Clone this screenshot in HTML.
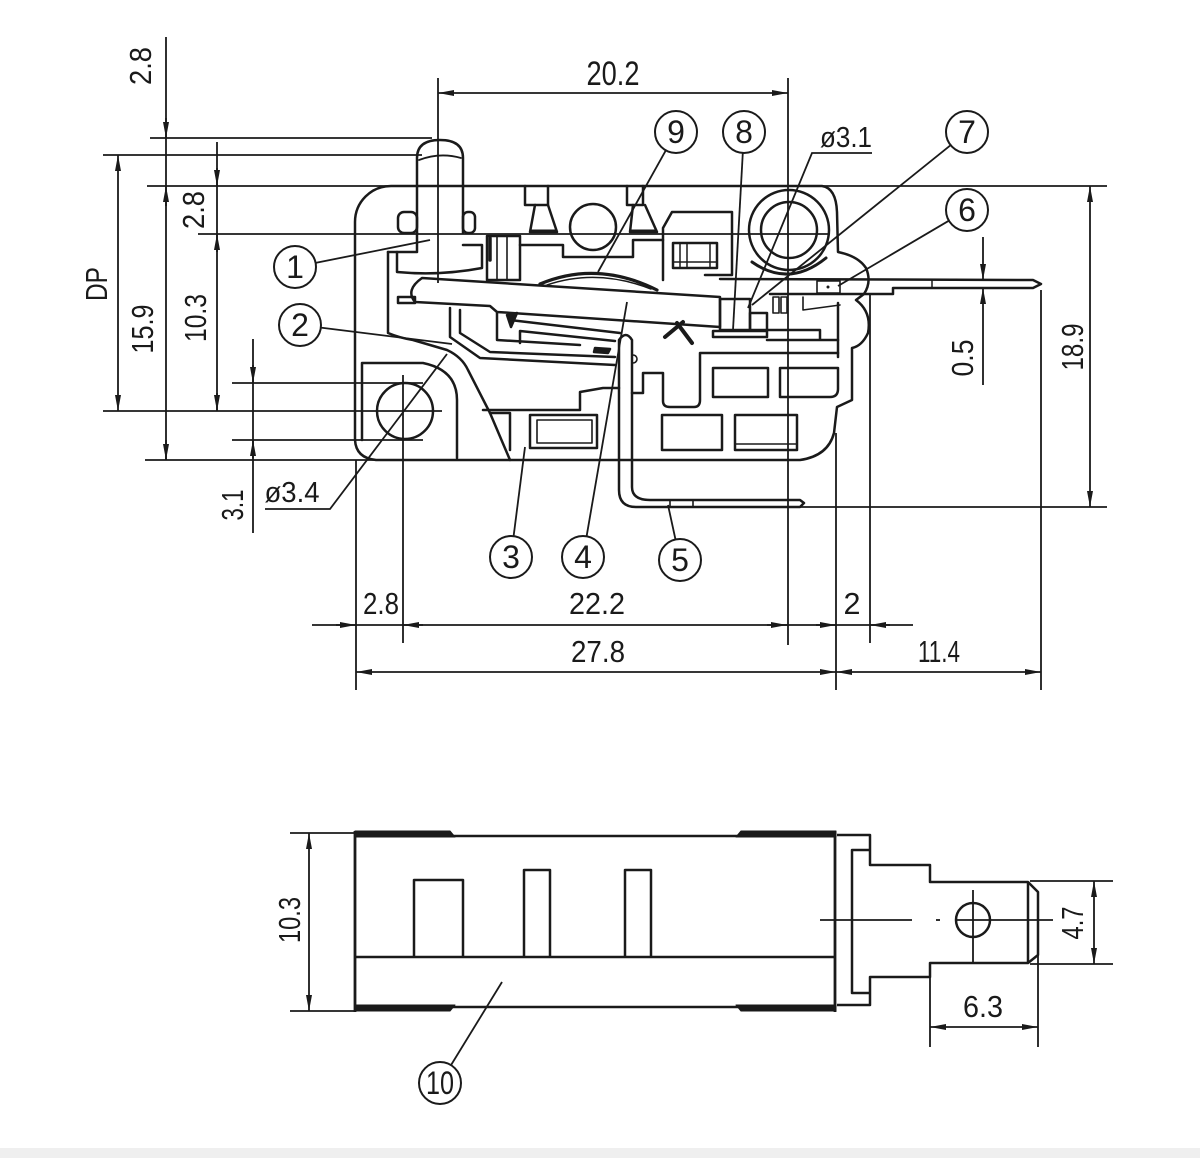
<!DOCTYPE html>
<html><head><meta charset="utf-8"><style>
html,body{margin:0;padding:0;background:#fff;}
svg{display:block}
text{font-family:"Liberation Sans",sans-serif;fill:#1a1a1a}
</style></head><body>
<svg width="1200" height="1158" viewBox="0 0 1200 1158" xmlns="http://www.w3.org/2000/svg">
<defs>
<marker id="a" viewBox="0 0 16 6" refX="16" refY="3" markerWidth="16" markerHeight="6" markerUnits="userSpaceOnUse" orient="auto-start-reverse"><path d="M0,0L16,3L0,6Z" fill="#1a1a1a"/></marker>
</defs>
<rect width="1200" height="1158" fill="#fff"/>
<rect y="1148" width="1200" height="10" fill="#efefef"/>

<!-- ========== DIMENSION / EXTENSION LINES ========== -->
<g fill="none" stroke="#1a1a1a" stroke-width="1.8">
  <!-- 20.2 -->
  <line x1="438" y1="78" x2="438" y2="283"/>
  <line x1="788" y1="78" x2="788" y2="645"/>
  <line x1="438" y1="93" x2="788" y2="93" marker-start="url(#a)" marker-end="url(#a)"/>

  <!-- left vertical 2.8 / height -->
  <line x1="166" y1="37" x2="166" y2="460"/>
  <line x1="166" y1="118" x2="166" y2="138" marker-end="url(#a)"/>
  <line x1="166" y1="206" x2="166" y2="186" marker-end="url(#a)"/>
  <line x1="166" y1="440" x2="166" y2="460" marker-end="url(#a)"/>

  <!-- horizontal extension lines -->
  <line x1="150" y1="138" x2="432" y2="138"/>
  <line x1="103" y1="155" x2="422" y2="155"/>
  <line x1="147" y1="186" x2="1107" y2="186"/>
  <line x1="198" y1="234" x2="828" y2="234"/>
  <line x1="103" y1="411" x2="442" y2="411"/>
  <line x1="145" y1="460" x2="380" y2="460"/>
  <line x1="232" y1="383" x2="423" y2="383"/>
  <line x1="232" y1="440" x2="423" y2="440"/>

  <!-- 15.9 -->
  <line x1="118" y1="155" x2="118" y2="411" marker-start="url(#a)" marker-end="url(#a)"/>
  <!-- 2.8 / 10.3 -->
  <line x1="217" y1="142" x2="217" y2="411"/>
  <line x1="217" y1="168" x2="217" y2="186" marker-end="url(#a)"/>
  <line x1="217" y1="252" x2="217" y2="234" marker-end="url(#a)"/>
  <line x1="217" y1="393" x2="217" y2="411" marker-end="url(#a)"/>
  <!-- 3.1 -->
  <line x1="253" y1="339" x2="253" y2="533"/>
  <line x1="253" y1="365" x2="253" y2="383" marker-end="url(#a)"/>
  <line x1="253" y1="458" x2="253" y2="440" marker-end="url(#a)"/>
  <!-- ø3.4 leader -->
  <polyline points="265,509 330,509 447,354"/>

  <!-- right side -->
  <line x1="1090" y1="186" x2="1090" y2="507" marker-start="url(#a)" marker-end="url(#a)"/>
  <line x1="800" y1="507" x2="1107" y2="507"/>
  <line x1="983" y1="237" x2="983" y2="280" marker-end="url(#a)"/>
  <line x1="983" y1="385" x2="983" y2="288" marker-end="url(#a)"/>
  <line x1="1041" y1="290" x2="1041" y2="690"/>
  <line x1="836" y1="433" x2="836" y2="690"/>
  <line x1="870" y1="295" x2="870" y2="643"/>
  <line x1="356" y1="460" x2="356" y2="690"/>
  <line x1="403" y1="375" x2="403" y2="643"/>

  <!-- bottom dims -->
  <line x1="312" y1="625" x2="913" y2="625"/>
  <line x1="336" y1="625" x2="356" y2="625" marker-end="url(#a)"/>
  <line x1="423" y1="625" x2="403" y2="625" marker-end="url(#a)"/>
  <line x1="767" y1="625" x2="787" y2="625" marker-end="url(#a)"/>
  <line x1="816" y1="625" x2="836" y2="625" marker-end="url(#a)"/>
  <line x1="890" y1="625" x2="870" y2="625" marker-end="url(#a)"/>
  <line x1="356" y1="672" x2="836" y2="672" marker-start="url(#a)" marker-end="url(#a)"/>
  <line x1="836" y1="672" x2="1041" y2="672" marker-start="url(#a)" marker-end="url(#a)"/>

  <!-- leaders top view -->
  <line x1="315.6" y1="262.9" x2="430" y2="240"/>
  <line x1="320.8" y1="327.6" x2="452" y2="344"/>
  <line x1="665.8" y1="150.4" x2="598" y2="272"/>
  <line x1="742.8" y1="153" x2="733" y2="330"/>
  <line x1="950.6" y1="145.2" x2="752" y2="305"/>
  <line x1="948.9" y1="220.7" x2="838" y2="286"/>
  <polyline points="872,153 812,153 748,308"/>
  <line x1="513.6" y1="536.2" x2="525" y2="447"/>
  <line x1="586.6" y1="536.3" x2="627" y2="302"/>
  <line x1="675.5" y1="539.5" x2="668" y2="505"/>

  <!-- bottom view dims -->
  <line x1="290" y1="833" x2="355" y2="833"/>
  <line x1="290" y1="1011" x2="355" y2="1011"/>
  <line x1="309" y1="833" x2="309" y2="1011" marker-start="url(#a)" marker-end="url(#a)"/>
  <line x1="1030" y1="881" x2="1113" y2="881"/>
  <line x1="1030" y1="964" x2="1113" y2="964"/>
  <line x1="1094" y1="881" x2="1094" y2="964" marker-start="url(#a)" marker-end="url(#a)"/>
  <line x1="930" y1="963" x2="930" y2="1047"/>
  <line x1="1038" y1="955" x2="1038" y2="1047"/>
  <line x1="930" y1="1027" x2="1038" y2="1027" marker-start="url(#a)" marker-end="url(#a)"/>
  <line x1="820" y1="920" x2="912" y2="920"/>
  <line x1="936" y1="920" x2="940" y2="920"/>
  <line x1="955" y1="920" x2="1053" y2="920"/>
  <line x1="973" y1="890" x2="973" y2="963"/>
  <line x1="451" y1="1065.1" x2="502" y2="982"/>
</g>

<!-- ========== OUTLINES TOP VIEW ========== -->
<g fill="none" stroke="#1a1a1a" stroke-width="2.5" stroke-linejoin="round" stroke-linecap="round">
  <!-- body -->
  <path d="M391,186 L822,186 Q836,188 837,212 L838,252 Q858,256 866,268 Q872,282 864,294 L856,300 Q872,312 868,333 Q862,346 852,348 L852,400 L837,407 L834,433 Q828,456 800,460 L376,460 Q356,458 355,440 L355,222 A36,36 0 0 1 391,186 Z"/>
  <!-- actuator -->
  <path d="M417,233 L417,158 Q417,140 440,140 Q463,140 463,158 L463,233"/>
  <path d="M419,160 Q440,152 461,158" stroke-width="1.8"/>
  <rect x="398" y="212" width="19" height="21" rx="6"/>
  <rect x="463" y="212" width="12" height="21" rx="5"/>
  <path d="M388,252 L417,252 L417,233"/>
  <path d="M397,252 L397,272 Q440,276 482,268 L482,245 L463,245"/>
  <!-- inner wall / ramp -->
  <path d="M388,252 L388,333 Q400,338 413,340 L447,350 Q462,357 468,370 L490,413 L510,460"/>
  <!-- hole boss -->
  <path d="M362,440 L362,363 L423,363 Q457,370 457,400 L457,458"/>
  <circle cx="405" cy="411" r="28"/>
  <!-- lever -->
  <path d="M422,278 L720,297 L720,327 L497,312 L490,306 L415,302 Q405,290 422,278 Z"/>
  <rect x="398" y="297" width="17" height="6"/>
  <rect x="720" y="299" width="30" height="31"/>
  <rect x="750" y="313" width="17" height="17"/>
  <rect x="713" y="331" width="54" height="6"/>
  <!-- dome -->
  <path d="M540,284 Q597,260 657,290" stroke-width="3.2"/>
  <path d="M547,285 Q597,268 651,289" stroke-width="1.5"/>
  <!-- under-lever parts -->
  <path d="M450,308 L450,337 L480,358 L615,365"/>
  <path d="M460,310 L460,333 L490,352 L615,357"/>
  <path d="M497,313 L497,340 L580,345"/>
  <path d="M510,320 L620,333"/>
  <path d="M520,331 L615,341 M520,331 L520,343"/>
  <path d="M507,315 L517,313 L511,327 Z" fill="#1a1a1a"/>
  <path d="M595,348 L610,349 L608,353 L594,352 Z" fill="#1a1a1a"/>
  <!-- terminal 5 -->
  <path d="M619,340 L619,490 Q619,507 636,507 L800,507 L804,503 L800,500 L650,500 Q632,500 632,487 L632,340 Q626,330 619,340 Z"/>
  <path d="M670,500 L670,507 M693,500 L693,507" stroke-width="1.6"/>
  <path d="M633,355 A4,4 0 0 1 633,363" stroke-width="1.6"/>
  <!-- notch & shelves -->
  <path d="M632,393 L643,393 L643,373 L663,373 L663,401 Q663,407 670,407 L694,407 Q700,407 700,400 L700,353 L838,353"/>
  <path d="M838,303 L838,357"/>
  <path d="M767,340 L838,340 M767,330 L820,330 L820,340"/>
  <!-- "3" step -->
  <path d="M483,410 L580,410 L580,392 L603,388 L619,388"/>
  <path d="M490,413 L510,413 L510,450"/>
  <!-- cavities -->
  <rect x="530" y="415" width="67" height="33"/>
  <rect x="537" y="420" width="55" height="23" stroke-width="1.6"/>
  <rect x="713" y="368" width="55" height="29"/>
  <path d="M780,368 L838,368 L838,389 Q838,397 830,397 L780,397 Z"/>
  <rect x="662" y="415" width="60" height="35"/>
  <rect x="735" y="415" width="62" height="35"/>
  <line x1="735" y1="444" x2="797" y2="444" stroke-width="1.6"/>
  <!-- upper parts -->
  <circle cx="593" cy="227" r="23"/>
  <path d="M525,186 L525,205 L548,205 L548,186"/>
  <path d="M535,205 L530,232 L557,232 L548,205"/>
  <line x1="531" y1="231" x2="556" y2="231" stroke-width="3"/>
  <path d="M627,186 L627,205 L643,205 L643,186"/>
  <path d="M633,205 L630,232 L657,232 L645,205"/>
  <line x1="631" y1="231" x2="656" y2="231" stroke-width="3"/>
  <rect x="487" y="236" width="33" height="44"/>
  <path d="M497,236 L497,280 M507,236 L507,280" stroke-width="1.6"/>
  <line x1="490" y1="238" x2="490" y2="260" stroke-width="3.5"/>
  <path d="M520,245 L563,245 L563,257 L633,257 L633,240 L663,240"/>
  <path d="M663,280 L663,228 L672,212 L732,212 L732,275 L705,275"/>
  <rect x="673" y="243" width="44" height="25"/>
  <path d="M680,243 L680,268 M687,243 L687,268 M710,243 L710,268 M673,262 L717,262" stroke-width="1.5"/>
  <!-- pivot -->
  <circle cx="789" cy="230" r="40"/>
  <circle cx="789" cy="230" r="28"/>
  <path d="M752,262 Q789,288 826,258" stroke-width="3"/>
  <!-- terminal 6 -->
  <path d="M720,279 L1033,280 L1041,284 L1033,288 L893,288 L893,294 L770,294"/>
  <line x1="932" y1="280" x2="932" y2="288" stroke-width="1.5"/>
  <rect x="817" y="281" width="23" height="12" stroke-width="1.6"/>
  <circle cx="828" cy="287" r="1.5" fill="#1a1a1a" stroke="none"/>
  <rect x="773" y="297" width="6" height="16" stroke-width="1.6"/>
  <rect x="781" y="297" width="6" height="16" stroke-width="1.6"/>
  <path d="M803,297 L803,310 L840,305" stroke-width="1.6"/>
  <!-- X mark -->
  <path d="M665,337 L683,322 M677,323 L692,343" stroke-width="4"/>
</g>

<!-- ========== OUTLINES BOTTOM VIEW ========== -->
<g fill="none" stroke="#1a1a1a" stroke-width="2.5" stroke-linejoin="round">
  <line x1="355" y1="831" x2="355" y2="1012" stroke-width="2.8"/>
  <line x1="835" y1="831" x2="835" y2="1012" stroke-width="2.8"/>
  <line x1="450" y1="836" x2="738" y2="836"/>
  <line x1="450" y1="1007" x2="738" y2="1007"/>
  <path d="M355,831 L450,831 L455,837 L355,837 Z" fill="#1a1a1a" stroke-width="1"/>
  <path d="M741,831 L836,831 L836,837 L736,837 Z" fill="#1a1a1a" stroke-width="1"/>
  <path d="M355,1005 L455,1005 L450,1011 L355,1011 Z" fill="#1a1a1a" stroke-width="1"/>
  <path d="M736,1005 L836,1005 L836,1011 L741,1011 Z" fill="#1a1a1a" stroke-width="1"/>
  <line x1="355" y1="957" x2="835" y2="957"/>
  <polyline points="414,957 414,880 463,880 463,957"/>
  <polyline points="524,957 524,870 550,870 550,957"/>
  <polyline points="625,957 625,870 651,870 651,957"/>
  <path d="M837,835 L870,835 L870,865 L930,865 L930,882 L1028,882 L1038,892 L1038,955 L1028,963 L930,963 L930,977 L870,977 L870,1005 L837,1005"/>
  <path d="M870,850 L852,850 L852,993 L870,993"/>
  <line x1="1028" y1="882" x2="1028" y2="963"/>
  <circle cx="973" cy="920" r="17"/>
</g>

<!-- ========== LABEL CIRCLES ========== -->
<g fill="none" stroke="#1a1a1a" stroke-width="2">
  <circle cx="295" cy="267" r="21"/>
  <circle cx="300" cy="325" r="21"/>
  <circle cx="676" cy="132" r="21"/>
  <circle cx="744" cy="132" r="21"/>
  <circle cx="967" cy="132" r="21"/>
  <circle cx="967" cy="210" r="21"/>
  <circle cx="511" cy="557" r="21"/>
  <circle cx="583" cy="557" r="21"/>
  <circle cx="680" cy="560" r="21"/>
  <circle cx="440" cy="1083" r="21"/>
</g>
<g font-size="32" text-anchor="middle">
  <text x="295" y="278">1</text>
  <text x="300" y="336">2</text>
  <text x="676" y="143">9</text>
  <text x="744" y="143">8</text>
  <text x="967" y="143">7</text>
  <text x="967" y="221">6</text>
  <text x="511" y="568">3</text>
  <text x="583" y="568">4</text>
  <text x="680" y="571">5</text>
  <text x="440" y="1094" textLength="28" lengthAdjust="spacingAndGlyphs">10</text>
</g>

<!-- ========== DIMENSION TEXT ========== -->
<g font-size="31" text-anchor="middle">
  <text x="613" y="85" font-size="34" textLength="53" lengthAdjust="spacingAndGlyphs">20.2</text>
  <text x="846" y="147" font-size="29" textLength="52" lengthAdjust="spacingAndGlyphs">ø3.1</text>
  <text x="292" y="502" font-size="29" textLength="55" lengthAdjust="spacingAndGlyphs">ø3.4</text>

  <text transform="translate(151,66) rotate(-90)" textLength="38" lengthAdjust="spacingAndGlyphs">2.8</text>
  <text transform="translate(107,284) rotate(-90)" textLength="34" lengthAdjust="spacingAndGlyphs">DP</text>
  <text transform="translate(153,329) rotate(-90)" textLength="49" lengthAdjust="spacingAndGlyphs">15.9</text>
  <text transform="translate(204,210) rotate(-90)" textLength="38" lengthAdjust="spacingAndGlyphs">2.8</text>
  <text transform="translate(206,318) rotate(-90)" textLength="48" lengthAdjust="spacingAndGlyphs">10.3</text>
  <text transform="translate(243,505) rotate(-90)" textLength="31" lengthAdjust="spacingAndGlyphs">3.1</text>
  <text transform="translate(973,358) rotate(-90)" textLength="37" lengthAdjust="spacingAndGlyphs">0.5</text>
  <text transform="translate(1083,347) rotate(-90)" textLength="47" lengthAdjust="spacingAndGlyphs">18.9</text>

  <text x="381" y="614" textLength="36" lengthAdjust="spacingAndGlyphs">2.8</text>
  <text x="597" y="614" textLength="56" lengthAdjust="spacingAndGlyphs">22.2</text>
  <text x="852" y="614" textLength="17" lengthAdjust="spacingAndGlyphs">2</text>
  <text x="598" y="662" textLength="54" lengthAdjust="spacingAndGlyphs">27.8</text>
  <text x="939" y="662" textLength="42" lengthAdjust="spacingAndGlyphs">11.4</text>

  <text transform="translate(300,920) rotate(-90)" textLength="46" lengthAdjust="spacingAndGlyphs">10.3</text>
  <text transform="translate(1083,923) rotate(-90)" textLength="33" lengthAdjust="spacingAndGlyphs">4.7</text>
  <text x="983" y="1017" textLength="40" lengthAdjust="spacingAndGlyphs">6.3</text>
</g>
</svg>
</body></html>
